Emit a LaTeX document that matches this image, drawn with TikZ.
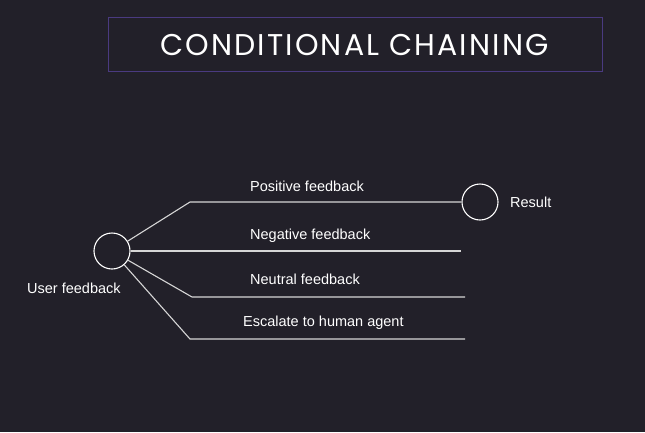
\documentclass[tikz,border=0pt]{standalone}
\usepackage{fontspec}
\setmainfont{Liberation Sans}
\newfontfamily\titlefont[LetterSpace=7]{Poppins}
\definecolor{bg}{HTML}{222029}
\definecolor{frame}{HTML}{4A3A80}
\definecolor{ln}{HTML}{D6D6D6}
\begin{document}
\begin{tikzpicture}[x=1pt,y=-1pt,
  lbl/.style={text=white,font=\fontsize{14.5}{16}\selectfont,inner sep=0pt,anchor=west},
  circ/.style={circle,draw=white,line width=1.1pt,minimum size=36pt,inner sep=0pt},
  conn/.style={draw=ln,line width=1.1pt}]
\fill[bg] (0,0) rectangle (645,432);
\useasboundingbox (0,0) rectangle (645,432);
\node[draw=frame,line width=1pt,minimum width=494pt,minimum height=54pt,inner sep=0pt] (title) at (355,44) {};
\node[text=white,font=\titlefont\fontsize{30}{34}\selectfont] at (354.5,45) {CONDITIONAL CHAINING};
\node[circ] (uf) at (112,251) {};
\node[circ] (res) at (480,202) {};
\coordinate (p1) at (190,202);
\coordinate (p3) at (192,297);
\coordinate (e3) at (465,297);
\coordinate (p4) at (190,339);
\coordinate (e4) at (465,339);
\coordinate (e2) at (461,251);
\draw[conn] (uf) -- (p1) -- (res);
\draw[conn] (uf) -- (e2);
\draw[conn] (uf) -- (p3) -- (e3);
\draw[conn] (uf) -- (p4) -- (e4);
\node[lbl] (l1) at (250,186) {Positive feedback};
\node[lbl] (l2) at (250,236) {Negative feedback};
\node[lbl] (l3) at (250,279) {Neutral feedback};
\node[lbl] (l4) at (243,323) {Escalate to human agent};
\node[lbl] (l5) at (510,202) {Result};
\node[lbl] (l6) at (27,288) {User feedback};
\end{tikzpicture}
\end{document}
